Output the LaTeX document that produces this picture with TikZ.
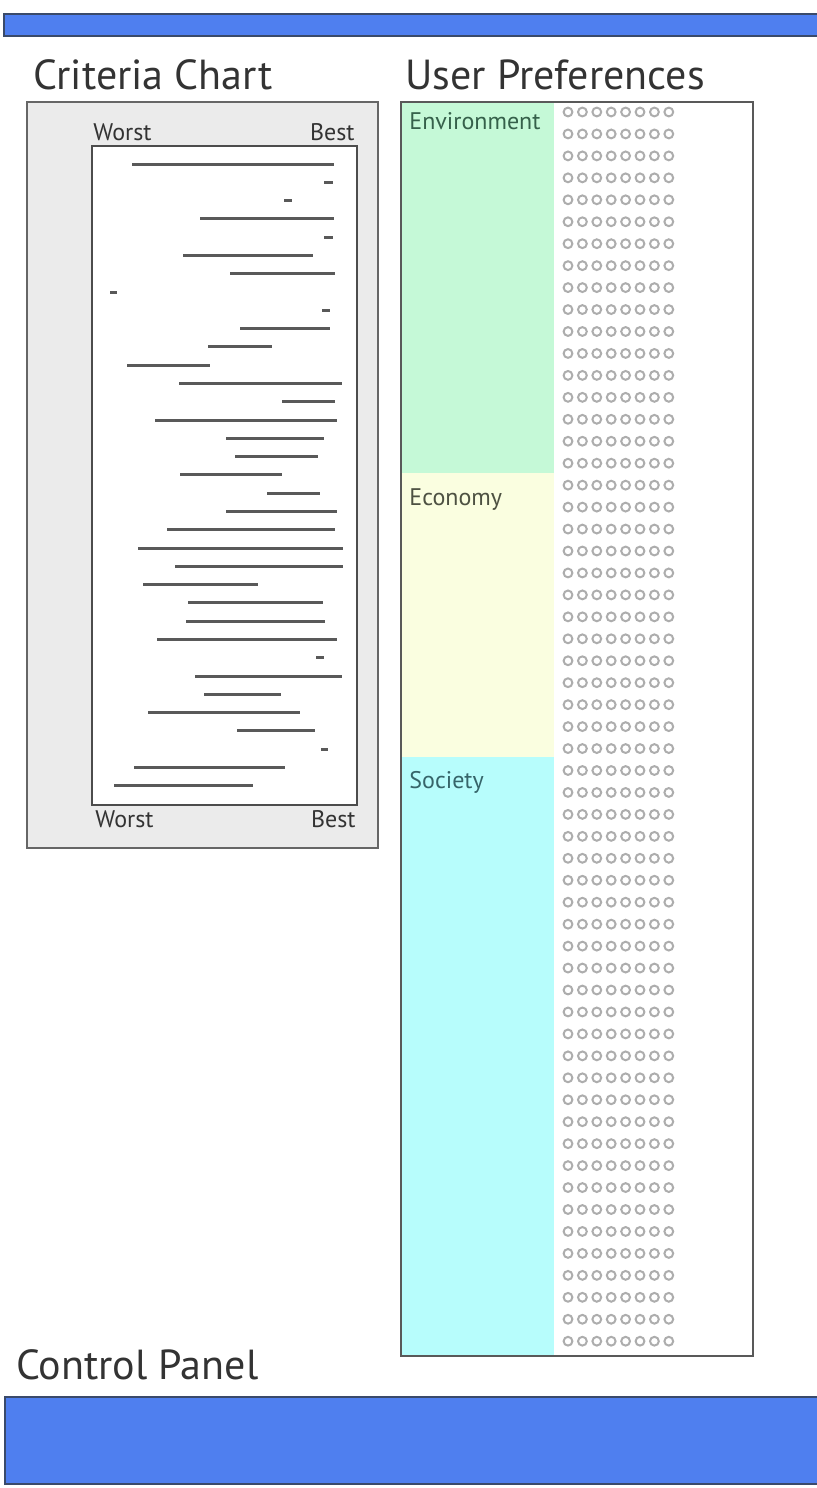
\documentclass[tikz,border=0pt]{standalone}
\usepackage{fontspec}
\setmainfont{PT Sans}
\usepackage{xcolor}
\usetikzlibrary{positioning}

\definecolor{barblue}{HTML}{4F7FEF}
\definecolor{barline}{HTML}{3A4A6A}
\definecolor{chartgray}{HTML}{EBEBEB}
\definecolor{envfill}{HTML}{C5F9D7}
\definecolor{ecofill}{HTML}{FAFEE0}
\definecolor{socfill}{HTML}{B7FDFC}
\definecolor{envtext}{HTML}{35604A}
\definecolor{ecotext}{HTML}{4D5142}
\definecolor{soctext}{HTML}{36656A}

\begin{document}
\begin{tikzpicture}[
    x=0.5pt, y=-0.5pt,
    panelbar/.style={draw=barline, line width=1.2pt, fill=barblue},
    heading/.style={anchor=base west, inner sep=0pt, font=\fontsize{21}{24}\selectfont, text=black!80},
    axislabel/.style={inner sep=0pt, font=\fontsize{12}{14}\selectfont, text=black!80},
    grouplabel/.style={anchor=base west, inner sep=0pt, font=\fontsize{12}{14}\selectfont},
    critline/.style={draw=black!65, line width=1.5pt},
    prefdot/.style={draw=black!32, line width=1pt}
]
\useasboundingbox (0,0) rectangle (816,1488);

% Top bar
\draw[panelbar] (4,14) rectangle (830,36);

% Headings
\node[heading] (crithead) at (33,89) {Criteria Chart};
\node[heading] (prefhead) at (405,89) {User Preferences};

% Criteria chart frame
\draw[draw=black!60, line width=1pt, fill=chartgray] (27,102) rectangle (378,848);
\draw[draw=black!70, line width=1.2pt, fill=white] (92,146) rectangle (357,805);
\node[axislabel, anchor=base west] (worsttop) at (93,140) {Worst};
\node[axislabel, anchor=base east] (besttop) at (355,140) {Best};
\node[axislabel, anchor=base west] (worstbot) at (95,827) {Worst};
\node[axislabel, anchor=base east] (bestbot) at (356,827) {Best};

% Criteria ranges (from, to)
\foreach \a/\b [count=\i from 0] in {
    132/334, 324/333, 284/292, 200/334, 324/333, 183/313, 230/335,
    110/117, 322/330, 240/330, 208/272, 127/210, 179/342, 282/335,
    155/337, 226/324, 235/318, 180/282, 267/320, 226/337, 167/335,
    138/343, 175/343, 143/258, 188/323, 186/325, 157/337, 316/324,
    195/342, 204/281, 148/300, 237/315, 321/328, 134/285, 114/253} {
    \draw[critline] (\a,164+18.29*\i) -- (\b,164+18.29*\i);
}

% User preferences frame
\fill[envfill] (401,102) rectangle (554,473);
\fill[ecofill] (401,473) rectangle (554,757);
\fill[socfill] (401,757) rectangle (554,1356);
\draw[draw=black!65, line width=1.2pt] (401,102) rectangle (753,1356);

\node[grouplabel, text=envtext] (envlabel) at (409,129) {Environment};
\node[grouplabel, text=ecotext] (ecolabel) at (409,505) {Economy};
\node[grouplabel, text=soctext] (soclabel) at (409,788) {Society};

% Rating dots
\foreach \r in {0,...,56} {
    \foreach \c in {0,...,7} {
        \draw[prefdot] (568+14.4*\c,112+21.95*\r) circle[radius=2.2pt];
    }
}

% Control panel
\node[heading] (ctrlhead) at (16,1379) {Control Panel};
\draw[panelbar] (5,1397) rectangle (830,1484);

\end{tikzpicture}
\end{document}
